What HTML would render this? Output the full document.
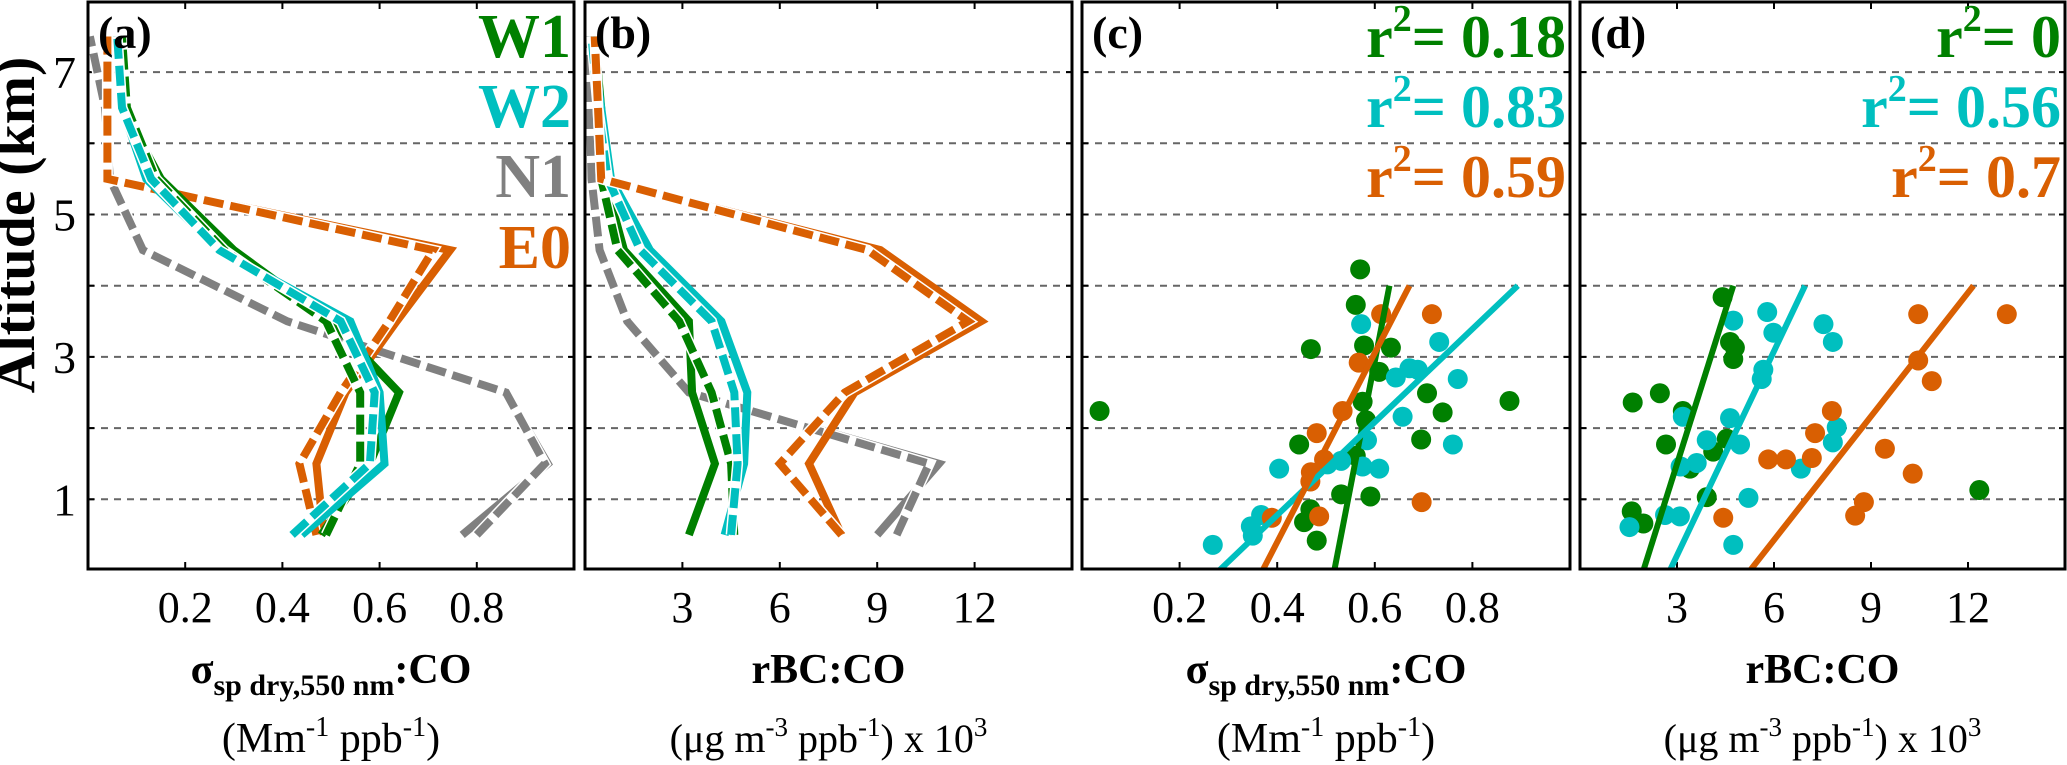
<!DOCTYPE html>
<html><head><meta charset="utf-8"><style>
html,body{margin:0;padding:0;background:#fff;}
svg{display:block;font-family:"Liberation Serif",serif;}
</style></head><body>
<svg id="fig" width="2067" height="765" viewBox="0 0 2067 765" xmlns="http://www.w3.org/2000/svg"></svg>
<script>
// ---------- data ----------
const altLevels = [0.5,1.5,2.5,3.5,4.5,5.5,6.5,7.5];
const yTicks = [1,3,5,7];
const ticksA = [0.2,0.4,0.6,0.8];
const ticksB = [3,6,9,12];
const tickLabelsA = ['0.2','0.4','0.6','0.8'];
const tickLabelsB = ['3','6','9','12'];
// panel a profiles (scattering:CO)
const aW1 = [0.48,0.58,0.64,0.50,0.30,0.15,0.07,0.06];
const aW1d = [0.49,0.56,0.56,0.49,0.28,0.14,0.08,0.07];
const aW2 = [0.44,0.61,0.60,0.54,0.27,0.12,0.07,0.06];
const aW2d = [0.42,0.58,0.59,0.52,0.27,0.13,0.07,0.06];
const aN1 = [0.77,0.946,0.86,0.41,0.113,0.045,0.035,0.004];
const aN1d = [0.80,0.94,0.86,0.41,0.113,0.045,0.035,0.004];
const aE0 = [0.485,0.47,0.53,0.635,0.745,0.04,0.04,0.04];
const aE0d = [0.47,0.435,0.52,0.62,0.71,0.04,0.04,0.04];
// panel b profiles (rBC:CO)
const bW1 = [3.2,4.0,3.3,3.2,1.2,0.6,0.5,0.3];
const bW1d = [4.6,4.5,3.9,2.9,1.0,0.5,0.4,0.3];
const bW2 = [4.3,4.9,5.0,4.2,2.0,0.8,0.5,0.2];
const bW2d = [4.5,4.7,4.6,3.9,1.7,0.7,0.4,0.2];
const bN1 = [9.0,10.9,3.2,1.3,0.45,0.2,0.15,0.1];
const bN1d = [9.6,10.6,3.2,1.3,0.45,0.2,0.15,0.1];
const bE0 = [7.9,6.9,8.3,12.2,9.1,0.5,0.4,0.3];
const bE0d = [7.9,6.0,8.0,11.8,8.7,0.5,0.4,0.3];
// panel c scatter
const cW1x = [0.570,0.561,0.469,0.578,0.633,0.609,0.036,0.575,0.582,0.707,0.739,0.695,0.876,0.445,0.561,0.531,0.591,0.455,0.468,0.481];
const cW1y = [4.23,3.73,3.11,3.16,3.13,2.79,2.24,2.37,2.11,2.49,2.22,1.84,2.38,1.77,1.61,1.07,1.04,0.68,0.86,0.42];
const cW2x = [0.572,0.732,0.671,0.643,0.688,0.770,0.657,0.584,0.760,0.531,0.575,0.609,0.503,0.404,0.367,0.346,0.350,0.268];
const cW2y = [3.46,3.21,2.84,2.71,2.82,2.69,2.16,1.83,1.77,1.54,1.46,1.43,1.49,1.43,0.78,0.62,0.49,0.36];
const cE0x = [0.613,0.717,0.567,0.534,0.481,0.496,0.469,0.468,0.389,0.486,0.696];
const cE0y = [3.60,3.60,2.92,2.24,1.93,1.56,1.38,1.25,0.74,0.76,0.96];
const cFitX0 = [0.517,0.281,0.370]; // W1,W2,E0 at alt 0
const cFitX4 = [0.630,0.893,0.671]; // at alt 4
const cR2 = ['0.18','0.83','0.59'];
// panel d scatter
const dW1x = [4.41,4.64,4.79,4.74,1.63,2.47,3.18,2.66,4.12,3.40,4.54,3.92,1.60,1.96,12.35];
const dW1y = [3.84,3.21,3.13,2.97,2.36,2.49,2.24,1.77,1.67,1.43,1.85,1.03,0.83,0.66,1.13];
const dW2x = [4.74,5.79,5.98,7.53,7.82,5.67,5.62,4.64,3.18,3.92,4.95,3.61,3.11,7.94,7.82,6.83,5.21,2.63,3.09,1.53,4.74];
const dW2y = [3.51,3.63,3.34,3.46,3.21,2.82,2.69,2.14,2.16,1.83,1.77,1.51,1.46,2.01,1.80,1.43,1.02,0.78,0.76,0.61,0.36];
const dE0x = [10.46,13.2,10.46,10.88,7.79,7.27,9.43,5.82,6.37,7.17,10.29,8.78,8.51,4.43];
const dE0y = [3.60,3.60,2.95,2.66,2.24,1.93,1.71,1.56,1.56,1.58,1.36,0.96,0.77,0.74];
const dFitX0 = [1.96,2.78,5.26];
const dFitX4 = [4.74,6.96,12.17];
const dR2 = ['0','0.56','0.7'];

// ---------- layout ----------
const NS='http://www.w3.org/2000/svg';
const svg=document.getElementById('fig');
const C={W1:'#008000',W2:'#00BFBF',N1:'#808080',E0:'#D95F02'};
const TOP=2,BOT=569;
function yS(v){return 570.5-71.2*v;}
const panels=[
 {id:'a',x0:88,x1:574,xmax:1},
 {id:'b',x0:585,x1:1072,xmax:15},
 {id:'c',x0:1082,x1:1570,xmax:1},
 {id:'d',x0:1580,x1:2065,xmax:15}
];
function mk(tag,attrs,parent){const e=document.createElementNS(NS,tag);for(const k in attrs)e.setAttribute(k,attrs[k]);(parent||svg).appendChild(e);return e;}
function xS(p,v){return p.x0+(p.x1-p.x0)*v/p.xmax;}

panels.forEach((p,pi)=>{
  const g=mk('g',{});
  
  
  const clipId='clip'+p.id;
  const cp=mk('clipPath',{id:clipId},g);
  mk('rect',{x:p.x0,y:TOP,width:p.x1-p.x0,height:BOT-TOP},cp);
  for(let k=1;k<=7;k++){
    const l=mk('line',{x1:p.x0,x2:p.x1,y1:yS(k),y2:yS(k),stroke:'#666','stroke-width':2,'stroke-dasharray':'7 6'},g);
    
    
    mk('line',{x1:p.x0,x2:p.x0+6,y1:yS(k),y2:yS(k),stroke:'#000','stroke-width':2},g);
    mk('line',{x1:p.x1,x2:p.x1-6,y1:yS(k),y2:yS(k),stroke:'#000','stroke-width':2},g);
  }
  const ticks=(p.xmax===1)?ticksA:ticksB;
  const tl=(p.xmax===1)?tickLabelsA:tickLabelsB;
  ticks.forEach((t,i)=>{
    const x=xS(p,t);
    mk('line',{x1:x,x2:x,y1:BOT,y2:BOT-7,stroke:'#000','stroke-width':2},g);
    mk('line',{x1:x,x2:x,y1:TOP,y2:TOP+7,stroke:'#000','stroke-width':2},g);
    const tx=mk('text',{x:x,y:622,'font-size':44,'text-anchor':'middle',fill:'#000'},g);
    tx.textContent=tl[i];
    
    
  });
  const dg=mk('g',{'clip-path':'url(#'+clipId+')'},g);
  function profile(vals,color,dashed,name){
    const pts=vals.map((v,i)=>xS(p,v).toFixed(1)+','+yS(altLevels[i]).toFixed(1)).join(' ');
    if(dashed){
      mk('polyline',{points:pts,fill:'none',stroke:'#fff','stroke-width':11,'stroke-linejoin':'miter'},dg);
      const l=mk('polyline',{points:pts,fill:'none',stroke:color,'stroke-width':8,'stroke-dasharray':'20 7','stroke-linejoin':'miter'},dg);
      
      
    } else {
      const l=mk('polyline',{points:pts,fill:'none',stroke:color,'stroke-width':8,'stroke-linejoin':'miter'},dg);
      
      
    }
  }
  function scatter(xs,ys,color,name){
    xs.forEach((v,i)=>{
      const c=mk('ellipse',{cx:xS(p,v),cy:yS(ys[i]),rx:10,ry:10,fill:color},dg);
      
      
    });
  }
  function fit(x0,x4,color,name){
    const l=mk('line',{x1:xS(p,x0),y1:yS(0),x2:xS(p,x4),y2:yS(4),stroke:color,'stroke-width':6},dg);
    
    
  }
  if(p.id==='a'){
    profile(aN1,C.N1,false,'n1');profile(aN1d,C.N1,true,'n1');
    profile(aE0,C.E0,false,'e0');profile(aE0d,C.E0,true,'e0');
    profile(aW1,C.W1,false,'w1');profile(aW1d,C.W1,true,'w1');
    profile(aW2,C.W2,false,'w2');profile(aW2d,C.W2,true,'w2');
  } else if(p.id==='b'){
    profile(bN1,C.N1,false,'n1');profile(bN1d,C.N1,true,'n1');
    profile(bW1,C.W1,false,'w1');profile(bW1d,C.W1,true,'w1');
    profile(bW2,C.W2,false,'w2');profile(bW2d,C.W2,true,'w2');
    profile(bE0,C.E0,false,'e0');profile(bE0d,C.E0,true,'e0');
  } else if(p.id==='c'){
    scatter(cW1x,cW1y,C.W1,'w1');scatter(cW2x,cW2y,C.W2,'w2');scatter(cE0x,cE0y,C.E0,'e0');
    fit(cFitX0[0],cFitX4[0],C.W1,'w1');fit(cFitX0[1],cFitX4[1],C.W2,'w2');fit(cFitX0[2],cFitX4[2],C.E0,'e0');
  } else {
    scatter(dW1x,dW1y,C.W1,'w1');scatter(dW2x,dW2y,C.W2,'w2');scatter(dE0x,dE0y,C.E0,'e0');
    fit(dFitX0[0],dFitX4[0],C.W1,'w1');fit(dFitX0[1],dFitX4[1],C.W2,'w2');fit(dFitX0[2],dFitX4[2],C.E0,'e0');
  }
  const box=mk('rect',{x:p.x0,y:TOP,width:p.x1-p.x0,height:BOT-TOP,fill:'none',stroke:'#000','stroke-width':3},g);
  
  
  const pl=mk('text',{x:p.x0+10,y:48,'font-size':46,'font-weight':'bold',fill:'#000'},g);
  pl.textContent='('+p.id+')';
  
  
  if(p.id==='c'||p.id==='d'){
    const vals=p.id==='c'?cR2:dR2;
    const cols=[C.W1,C.W2,C.E0];
    vals.forEach((v,i)=>{
      const t=mk('text',{x:p.x1-4,y:57+i*70,'font-size':60,'font-weight':'bold','text-anchor':'end',fill:cols[i]},g);
      t.innerHTML='r<tspan dy="-26" font-size="38">2</tspan><tspan dy="26">= '+v+'</tspan>';
      
      
    });
  }
  const cx=(p.x0+p.x1)/2;
  if(p.xmax===1){
    const t=mk('text',{x:cx,y:683,'font-size':42,'font-weight':'bold','text-anchor':'middle',fill:'#000'},g);
    t.innerHTML='σ<tspan dy="12" font-size="30">sp dry,550 nm</tspan><tspan dy="-12">:CO</tspan>';
    
    
    const u=mk('text',{x:cx,y:752,'font-size':42,'text-anchor':'middle',fill:'#000'},g);
    u.innerHTML='(Mm<tspan dy="-16" font-size="28">-1</tspan><tspan dy="16"> ppb</tspan><tspan dy="-16" font-size="28">-1</tspan><tspan dy="16">)</tspan>';
    
    
  } else {
    const t=mk('text',{x:cx,y:683,'font-size':42,'font-weight':'bold','text-anchor':'middle',fill:'#000'},g);
    t.textContent='rBC:CO';
    
    
    const u=mk('text',{x:cx,y:752,'font-size':40,'text-anchor':'middle',fill:'#000'},g);
    u.innerHTML='(μg m<tspan dy="-16" font-size="27">-3</tspan><tspan dy="16"> ppb</tspan><tspan dy="-16" font-size="27">-1</tspan><tspan dy="16">) x 10</tspan><tspan dy="-16" font-size="27">3</tspan>';
    
    
  }
});
yTicks.forEach(v=>{
  const t=mk('text',{x:76,y:yS(v)+16,'font-size':46,'text-anchor':'end',fill:'#000'});
  t.textContent=String(v);
  
  
});
const yt=mk('text',{x:0,y:0,'font-size':58,'font-weight':'bold','text-anchor':'middle',fill:'#000',transform:'translate(34,225) rotate(-90)'});
yt.textContent='Altitude (km)';


const leg=[['W1',C.W1,57],['W2',C.W2,127],['N1',C.N1,197],['E0',C.E0,268]];
leg.forEach(l=>{
  const t=mk('text',{x:571,y:l[2],'font-size':62,'font-weight':'bold','text-anchor':'end',fill:l[1]});
  t.textContent=l[0];
  
  
});
</script>
</body></html>
